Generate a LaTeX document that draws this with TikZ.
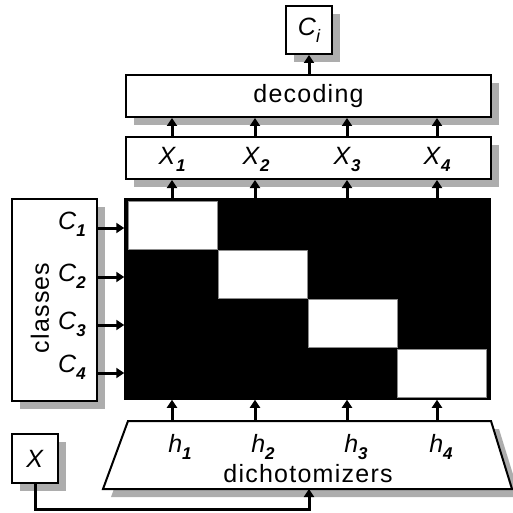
\documentclass[tikz,border=0pt]{standalone}
\usepackage{fontspec}
\setmainfont{Liberation Sans}
\newfontfamily\wordfont{Liberation Sans}[LetterSpace=5]
\usetikzlibrary{arrows.meta,shadows}
\newcommand\vsub[2]{\textit{#1}\raisebox{-7pt}{\fontsize{17}{17}\selectfont\bfseries\itshape #2}}
\newcommand\vsubthin[2]{\textit{#1}\raisebox{-7pt}{\fontsize{18}{18}\selectfont\itshape #2}}
\begin{document}
\begin{tikzpicture}[x=1pt,y=-1pt,
  box/.style={draw=black,line width=2pt,fill=white,inner sep=0pt,
    drop shadow={shadow xshift=8pt,shadow yshift=-8pt,opacity=1,fill=black!32}},
  arr/.style={line width=3pt,-{Triangle[width=10pt,length=8pt]}},
  lbl/.style={inner sep=0pt,font=\fontsize{25}{28}\selectfont},
  cell/.style={fill=white,draw=black!45,line width=0.8pt,inner sep=0pt,
    minimum width=89pt,minimum height=48pt},
]
\useasboundingbox (0,0) rectangle (512,513);

% column and row coordinates
\coordinate (k1) at (172,0);
\coordinate (k2) at (255,0);
\coordinate (k3) at (347,0);
\coordinate (k4) at (437,0);
\coordinate (r1) at (0,228);
\coordinate (r2) at (0,277);
\coordinate (r3) at (0,325);
\coordinate (r4) at (0,373);

% output class
\node[box,lbl,minimum width=46pt,minimum height=48pt] (ci) at (309,30) {\vsubthin{C}{i}};

% decoding
\node[box,lbl,minimum width=365pt,minimum height=42pt] (dec) at (308.5,96) {\wordfont decoding};

% code word row
\node[box,minimum width=365pt,minimum height=42pt] (xrow) at (308.5,158) {};
\node[lbl] (x1) at (172,159) {\vsub{X}{1}};
\node[lbl] (x2) at (256,159) {\vsub{X}{2}};
\node[lbl] (x3) at (347,159) {\vsub{X}{3}};
\node[lbl] (x4) at (437,159) {\vsub{X}{4}};

% code matrix
\node[draw=black,fill=black,line width=1.5pt,inner sep=0pt,
  minimum width=365pt,minimum height=200pt] (mat) at (307.5,299) {};
\node[cell] (w1) at (172.5,225) {};
\node[cell] (w2) at (262.5,274.5) {};
\node[cell] (w3) at (352.5,323.5) {};
\node[cell] (w4) at (442,373) {};

% classes
\node[box,minimum width=85pt,minimum height=202pt] (cls) at (54.5,300) {};
\node[lbl,rotate=90] (clsname) at (40,308) {\wordfont classes};
\node[lbl,anchor=east] (c1) at (86,224) {\vsub{C}{1}};
\node[lbl,anchor=east] (c2) at (86,276) {\vsub{C}{2}};
\node[lbl,anchor=east] (c3) at (86,324) {\vsub{C}{3}};
\node[lbl,anchor=east] (c4) at (86,367) {\vsub{C}{4}};

% dichotomizers
\coordinate (d1) at (103,489);
\coordinate (d2) at (512,489);
\coordinate (d3) at (491,421);
\coordinate (d4) at (128,421);
\draw[box] (d1) -- (d2) -- (d3) -- (d4) -- cycle;
\node[lbl] (h1) at (180,447) {\vsub{h}{1}};
\node[lbl] (h2) at (263,447) {\vsub{h}{2}};
\node[lbl] (h3) at (356,447) {\vsub{h}{3}};
\node[lbl] (h4) at (441,447) {\vsub{h}{4}};
\node[lbl] (dname) at (308,474) {\wordfont dichotomizers};

% input
\node[box,lbl,minimum width=46pt,minimum height=49pt] (xin) at (35,458.5) {\textit{X}};
\coordinate (xb) at (309,509);

% connectors
\draw[arr] (dec.north -| ci) -- (ci.south);
\foreach \k in {k1,k2,k3,k4} {
  \draw[arr] (xrow.north -| \k) -- (dec.south -| \k);
  \draw[arr] (mat.north -| \k) -- (xrow.south -| \k);
  \draw[arr] (d4 -| \k) -- (mat.south -| \k);
}
\foreach \r in {r1,r2,r3,r4} {
  \draw[arr] (cls.east |- \r) -- (mat.west |- \r);
}
\draw[arr] (xin.south) |- (xb) -- (xb |- d1);
\end{tikzpicture}
\end{document}
